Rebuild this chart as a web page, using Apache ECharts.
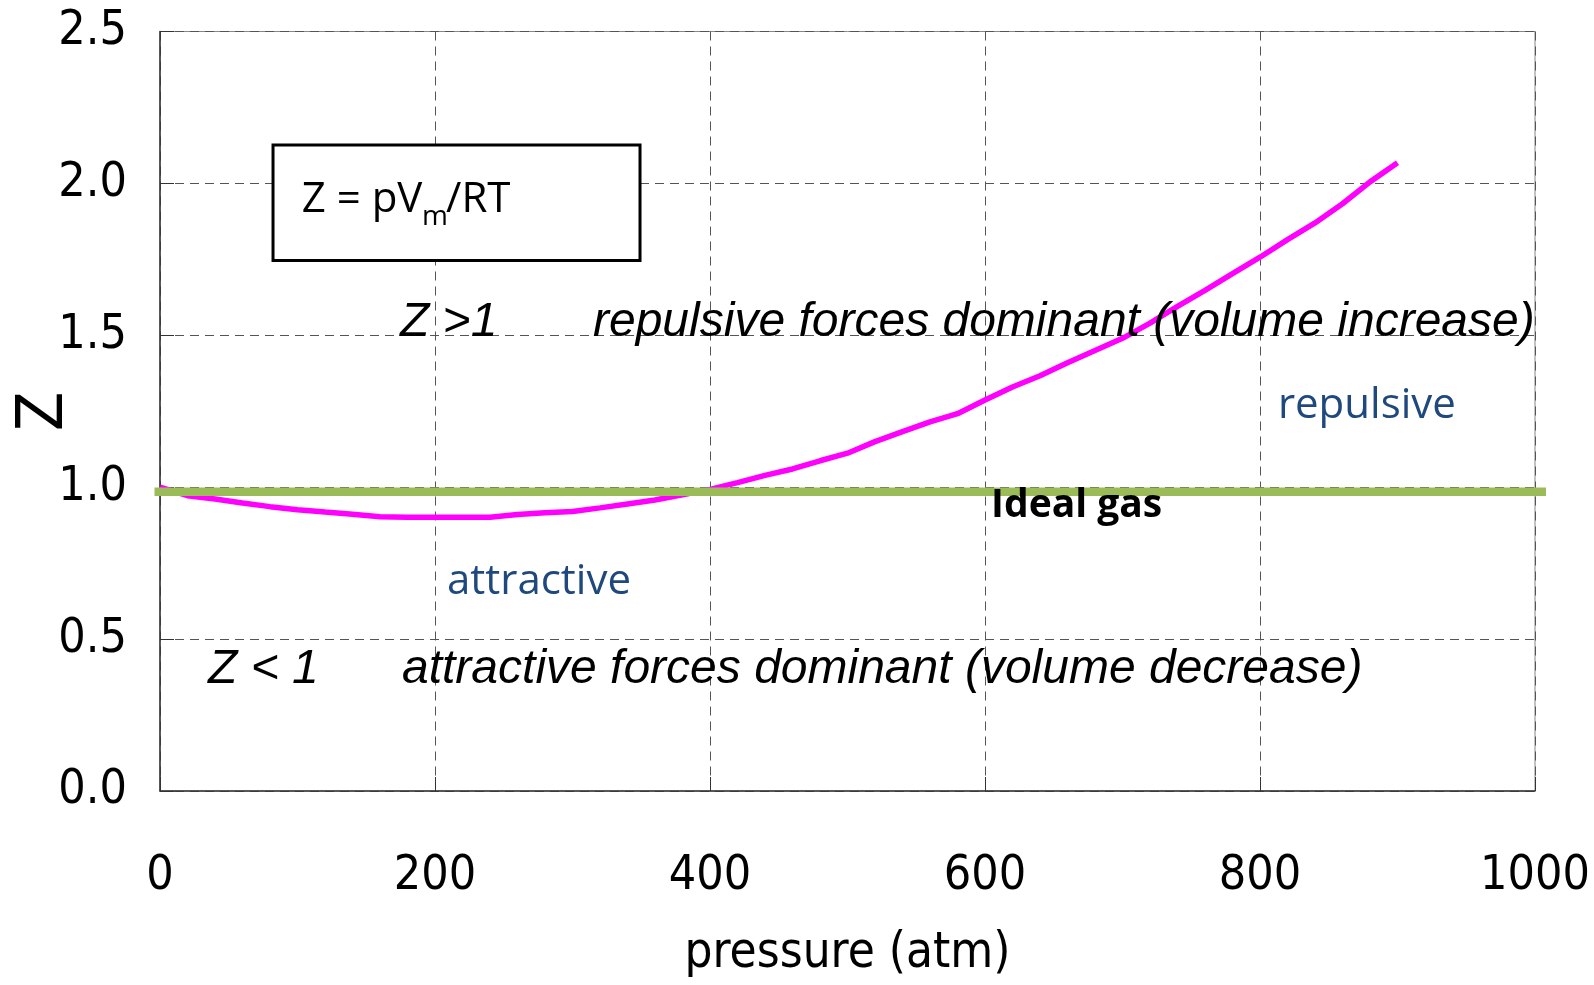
<!DOCTYPE html>
<html><head><meta charset="utf-8">
<script src="https://cdn.jsdelivr.net/npm/echarts@6/dist/echarts.min.js"></script>
<style>html,body{margin:0;padding:0;background:#fff}#c{width:1594px;height:985px}</style>
</head><body><div id="c"></div>
<script>
// ---- data ----
const pressure = [0,20,40,60,80,100,120,140,160,180,200,220,240,260,280,300,320,340,360,380,400,420,440,460,480,500,520,540,560,580,600,620,640,660,680,700,720,740,760,780,800,820,840,860,880,900];
const zValues  = [1.000,0.972,0.961,0.948,0.936,0.926,0.918,0.911,0.903,0.901,0.901,0.901,0.901,0.910,0.916,0.920,0.932,0.945,0.958,0.975,0.993,1.015,1.039,1.060,1.087,1.112,1.150,1.183,1.215,1.242,1.287,1.330,1.367,1.410,1.450,1.490,1.540,1.595,1.648,1.703,1.757,1.815,1.870,1.933,2.005,2.068];
const idealPressure = [-4, 1008];
const idealZ = [0.985, 0.985];
const xTickValues = [0,200,400,600,800,1000];
const yTickValues = [0.0,0.5,1.0,1.5,2.0,2.5];
const xAxisTitle = 'pressure (atm)';
const yAxisTitle = 'Z';

const NARROW = "'Liberation Sans Narrow','DejaVu Sans Condensed','DejaVu Sans',sans-serif";
const SANS = "'Liberation Sans',Arial,sans-serif";
const OPEN = "'Open Sans','Noto Sans',sans-serif";

const X0 = xTickValues[0], X1 = xTickValues[xTickValues.length-1];
const Y0 = yTickValues[0], Y1 = yTickValues[yTickValues.length-1];
const G = {left:160, top:31.5, width:1375, height:759.5};
const pxPerX = G.width / (X1 - X0);
// second (hidden) grid shares the same scale but spans the ideal-gas line's wider extent
const G2 = {left:G.left + (idealPressure[0]-X0)*pxPerX, top:G.top,
            width:(idealPressure[1]-idealPressure[0])*pxPerX, height:G.height};

const chart = echarts.init(document.getElementById('c'), null, {renderer:'canvas'});
const dashed = {color:'#555', width:1, type:[9,6]};
chart.setOption({
  animation:false,
  backgroundColor:'#fff',
  grid:[
    Object.assign({show:true, borderColor:'#888', borderWidth:1, containLabel:false, outerBoundsMode:'none'}, G),
    Object.assign({show:false, containLabel:false, outerBoundsMode:'none'}, G2)
  ],
  xAxis:[{
    gridIndex:0, type:'value', min:X0, max:X1, interval:200,
    name:xAxisTitle, nameLocation:'middle', nameGap:139, nameMoveOverlap:false,
    nameTextStyle:{fontFamily:NARROW, fontSize:49, color:'#000'},
    axisLine:{show:true, onZero:false, lineStyle:{color:'#333', width:1.5}},
    axisTick:{show:true, inside:true, length:14, lineStyle:{color:'#333', width:1}},
    axisLabel:{fontFamily:NARROW, fontSize:48, color:'#000', margin:62, lineHeight:48, formatter:v=>String(v)},
    splitLine:{show:true, lineStyle:dashed}
  },{
    gridIndex:1, type:'value', min:idealPressure[0], max:idealPressure[1], show:false
  }],
  yAxis:[{
    gridIndex:0, type:'value', min:Y0, max:Y1, interval:0.5,
    name:yAxisTitle, nameLocation:'middle', nameGap:83, nameRotate:90, nameMoveOverlap:false,
    nameTextStyle:{fontFamily:NARROW, fontSize:64, color:'#000'},
    axisLine:{show:true, onZero:false, lineStyle:{color:'#333', width:1.5}},
    axisTick:{show:true, inside:true, length:14, lineStyle:{color:'#333', width:1}},
    axisLabel:{fontFamily:NARROW, fontSize:48, color:'#000', margin:33, formatter:v=>v.toFixed(1)},
    splitLine:{show:true, lineStyle:dashed}
  },{
    gridIndex:1, type:'value', min:Y0, max:Y1, show:false
  }],
  series:[
    {type:'line', xAxisIndex:0, yAxisIndex:0, data:pressure.map((p,i)=>[p,zValues[i]]), symbol:'none', z:3,
     lineStyle:{color:'#FF00FF', width:5.5}},
    {type:'line', xAxisIndex:1, yAxisIndex:1, data:idealPressure.map((p,i)=>[p,idealZ[i]]), symbol:'none', clip:false, z:4,
     lineStyle:{color:'#9BBB59', width:8.5}}
  ]
});

// annotations anchored in data coordinates
const notes = [
  {t:'Z >1', p:174.5, z:1.542, f:SANS, s:48, st:'italic', w:'normal', c:'#000'},
  {t:'repulsive forces dominant (volume increase)', p:314.9, z:1.542, f:SANS, s:48, st:'italic', w:'normal', c:'#000'},
  {t:'Z < 1', p:34.9, z:0.399, f:SANS, s:48, st:'italic', w:'normal', c:'#000'},
  {t:'attractive forces dominant (volume decrease)', p:176, z:0.399, f:SANS, s:48, st:'italic', w:'normal', c:'#000'},
  {t:'attractive', p:208.7, z:0.688, f:OPEN, s:42, st:'normal', w:'normal', c:'#1F497D'},
  {t:'repulsive', p:813, z:1.267, f:OPEN, s:42, st:'normal', w:'normal', c:'#1F497D'},
  {t:'Ideal gas', p:604.4, z:0.938, f:OPEN, s:39, st:'normal', w:'bold', c:'#000'},
  {t:'Z = pV', p:103.1, z:1.946, f:OPEN, s:42, st:'normal', w:'normal', c:'#000'},
  {t:'m', p:190.5, z:1.889, f:OPEN, s:28, st:'normal', w:'normal', c:'#000'},
  {t:'/RT', p:208, z:1.946, f:OPEN, s:42, st:'normal', w:'normal', c:'#000'}
];
const box = {p0:82.2, z0:2.126, p1:349.1, z1:1.746};
const a = chart.convertToPixel({gridIndex:0}, [box.p0, box.z0]);
const b = chart.convertToPixel({gridIndex:0}, [box.p1, box.z1]);
const elements = [{type:'rect', shape:{x:a[0], y:a[1], width:b[0]-a[0], height:b[1]-a[1]},
  style:{fill:'#fff', stroke:'#000', lineWidth:3}, z:10}];
notes.forEach(n=>{
  const q = chart.convertToPixel({gridIndex:0}, [n.p, n.z]);
  elements.push({type:'text', x:q[0], y:q[1], z:11,
    style:{text:n.t, fill:n.c, font:`${n.st} ${n.w} ${n.s}px ${n.f}`, align:'left', verticalAlign:'middle'}});
});
chart.setOption({graphic:{elements}});
</script></body></html>
